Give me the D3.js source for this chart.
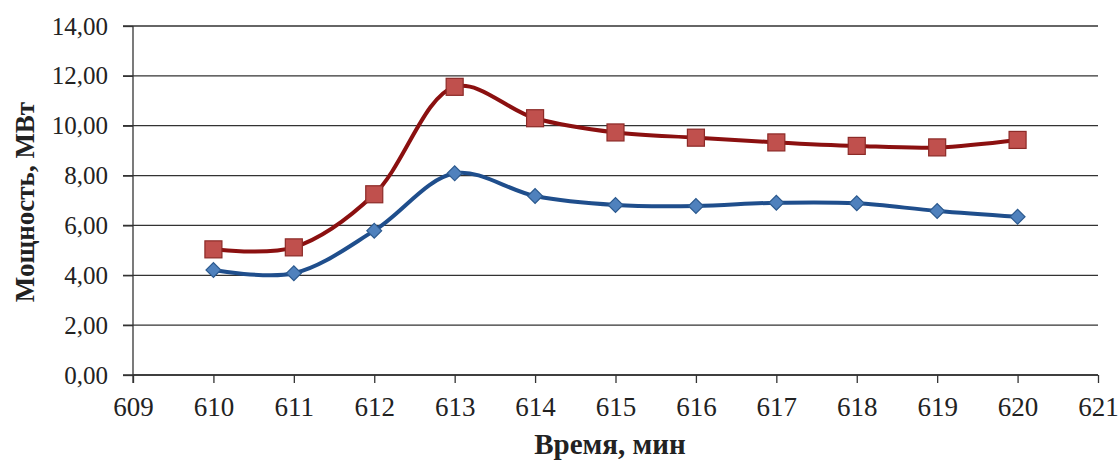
<!DOCTYPE html>
<html><head><meta charset="utf-8">
<script src="https://cdn.jsdelivr.net/npm/d3@7"></script>
<style>body{margin:0;background:#fff}svg{display:block}
text{font-family:"Liberation Serif","Times New Roman",Times,serif}</style>
</head><body>
<svg id="c" width="1118" height="461"></svg>
<script>
const minutes = [610,611,612,613,614,615,616,617,618,619,620];
const seriesBlue = [4.21,4.08,5.79,8.09,7.18,6.82,6.78,6.91,6.89,6.58,6.35];
const seriesRed  = [5.04,5.12,7.25,11.56,10.30,9.73,9.52,9.33,9.19,9.13,9.43];
const xTicks = [609,610,611,612,613,614,615,616,617,618,619,620,621];
const yTicks = [0,2,4,6,8,10,12,14];
const yTitle = "Мощность, МВт";
const xTitle = "Время, мин";

const svg = d3.select("#c");
const x = d3.scaleLinear().domain([609,621]).range([133,1098]);
const y = d3.scaleLinear().domain([0,14]).range([375,26]);
const font = "Liberation Serif";

// gridlines
svg.append("g").selectAll("line").data(yTicks).join("line")
  .attr("x1",123).attr("x2",1098)
  .attr("y1",d=>y(d)).attr("y2",d=>y(d))
  .attr("stroke","#333").attr("stroke-width",1.3);

// y axis
const ya = svg.append("g").attr("transform","translate(133,0)")
  .call(d3.axisLeft(y).tickValues(yTicks).tickSize(10).tickFormat(d=>d3.format(".2f")(d).replace(".",",")));
ya.attr("font-family",font);
ya.select(".domain").attr("stroke","#333").attr("stroke-width",1.3).attr("d","M0,26V383");
ya.selectAll(".tick line").attr("stroke","#333").attr("stroke-width",1.3);
ya.selectAll("text").style("font-family",font).attr("font-size",25).attr("fill","#222").attr("x",-25);

// x axis
const xa = svg.append("g").attr("transform","translate(0,375)")
  .call(d3.axisBottom(x).tickValues(xTicks).tickSize(8).tickFormat(d3.format("d")));
xa.attr("font-family",font);
xa.select(".domain").attr("stroke","#333").attr("stroke-width",1.3).attr("d","M133,0H1098");
xa.selectAll(".tick line").attr("stroke","#333").attr("stroke-width",1.3);
xa.selectAll("text").style("font-family",font).attr("font-size",27).attr("fill","#222").attr("y",22);

// titles
svg.append("text").attr("transform","translate(34,202) rotate(-90)")
  .attr("text-anchor","middle").style("font-family",font).attr("font-weight","bold")
  .attr("font-size",27).attr("fill","#222").text(yTitle);
svg.append("text").attr("x",610).attr("y",454)
  .attr("text-anchor","middle").style("font-family",font).attr("font-weight","bold")
  .attr("font-size",29).attr("fill","#222").text(xTitle);

const line = d3.line().curve(d3.curveCatmullRom.alpha(0.5)).x(d=>x(d[0])).y(d=>y(d[1]));
const redData = minutes.map((m,i)=>[m,seriesRed[i]]);
const blueData = minutes.map((m,i)=>[m,seriesBlue[i]]);

svg.append("path").datum(redData).attr("d",line).attr("fill","none")
  .attr("stroke","#8b1010").attr("stroke-width",4);
svg.append("path").datum(blueData).attr("d",line).attr("fill","none")
  .attr("stroke","#1f4e8c").attr("stroke-width",4);

svg.append("g").selectAll("rect").data(redData).join("rect")
  .attr("x",d=>x(d[0])-8.5).attr("y",d=>y(d[1])-8.5).attr("width",17).attr("height",17)
  .attr("fill","#c0504d").attr("stroke","#8c2a27").attr("stroke-width",1.2);

svg.append("g").selectAll("path").data(blueData).join("path")
  .attr("transform",d=>`translate(${x(d[0])},${y(d[1])}) rotate(45)`)
  .attr("d",d3.symbol().type(d3.symbolSquare).size(110))
  .attr("fill","#4f81bd").attr("stroke","#2c5a8f").attr("stroke-width",1.2);
</script>
</body></html>
